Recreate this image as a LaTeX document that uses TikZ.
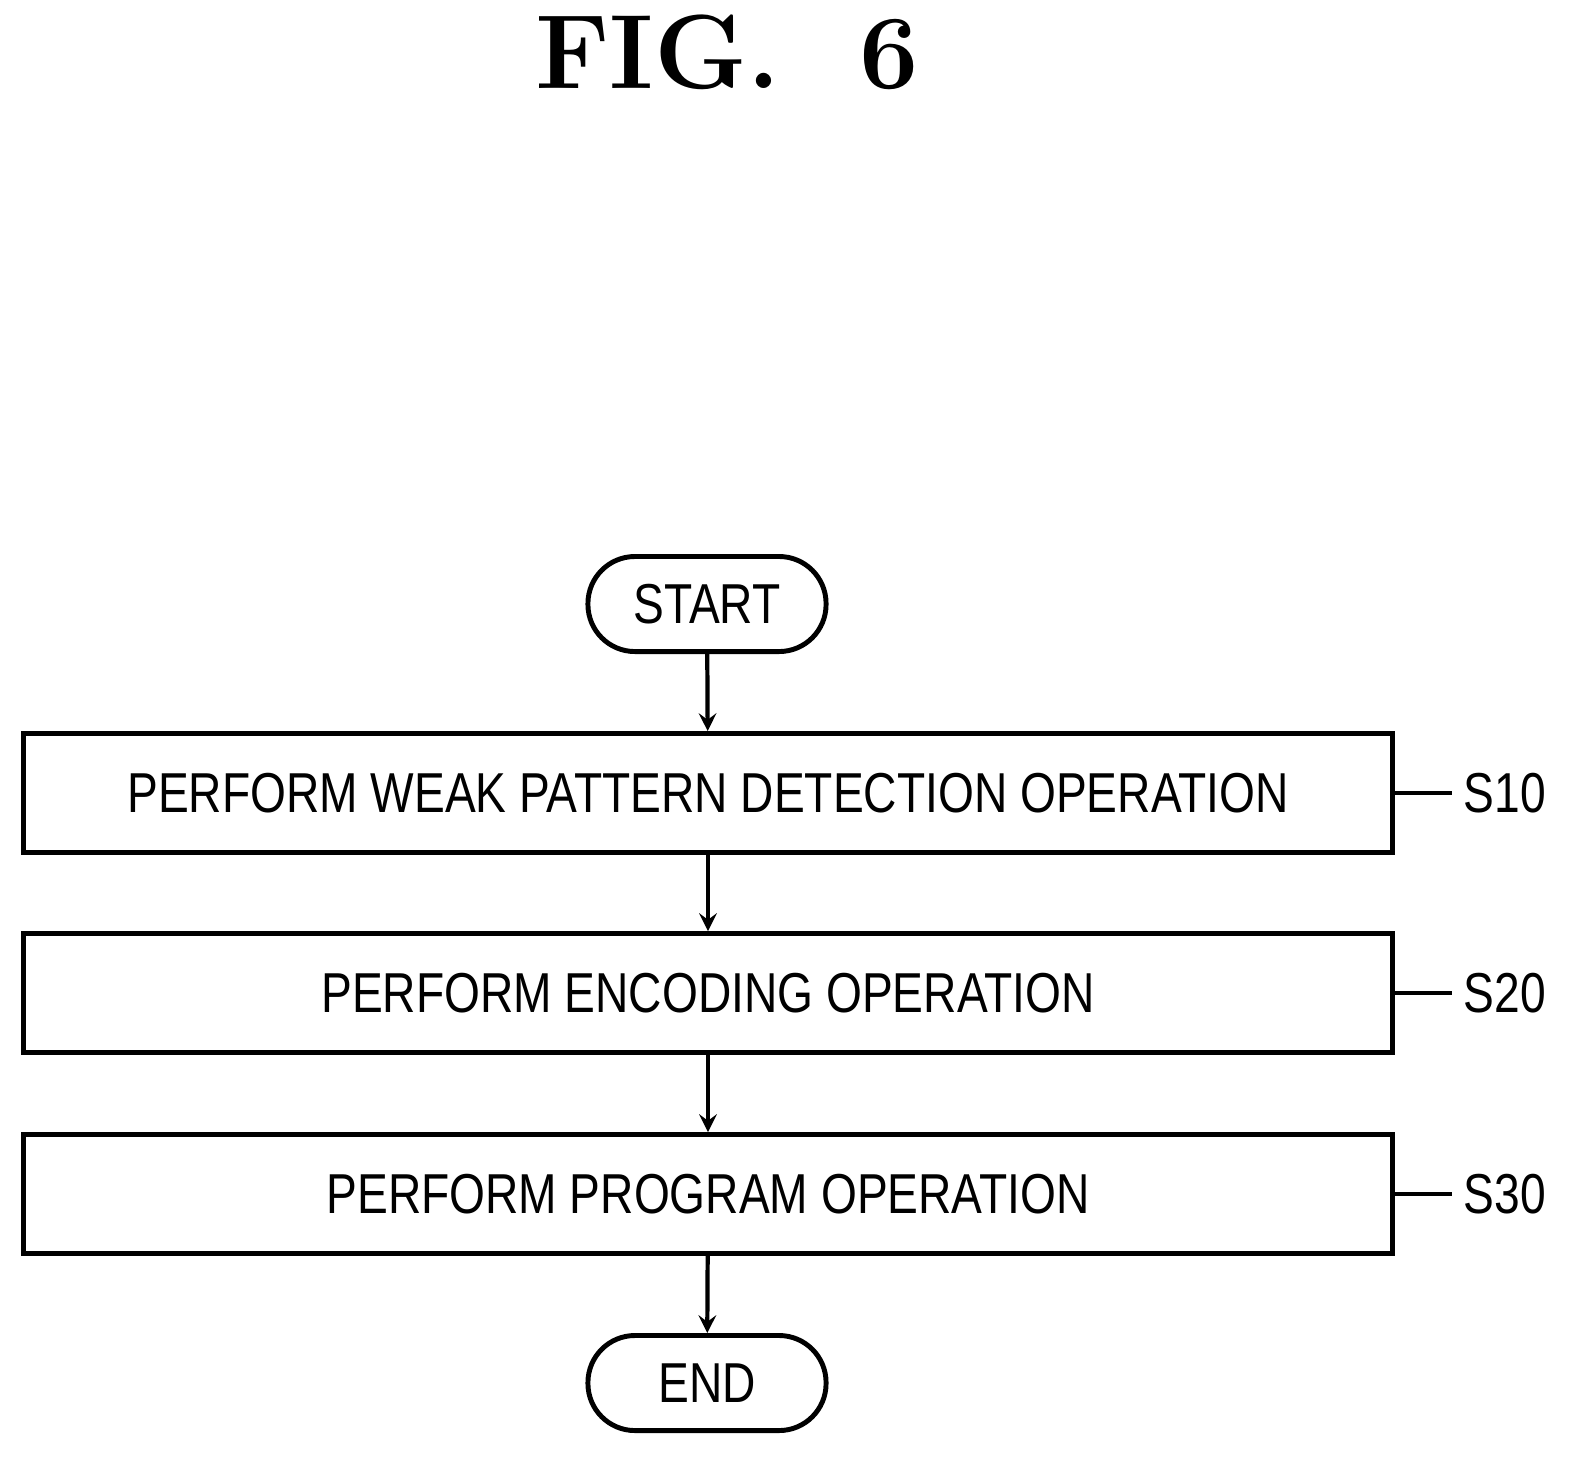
\documentclass[tikz,border=0pt]{standalone}
\usepackage{fontspec}
\setsansfont{Liberation Sans}[FakeStretch=0.82]
\usetikzlibrary{positioning}
\begin{document}
\begin{tikzpicture}[x=0.01cm, y=-0.01cm,
	opbox/.style={draw, line width=1.4pt, minimum width=13.69cm, minimum height=1.19cm, font=\sffamily\fontsize{16}{18}\selectfont},
	term/.style={draw, line width=1.4pt, rounded corners=0.47cm, minimum width=2.38cm, minimum height=0.95cm, font=\sffamily\fontsize{16}{18}\selectfont},
	tag/.style={font=\sffamily\fontsize{16}{18}\selectfont},
	flow/.style={->, >=stealth, line width=1.2pt}]
	\useasboundingbox (0,0) rectangle (1570,1459);
	\node [font=\fontsize{30}{36}\selectfont\bfseries] (title) at (727,52) {FIG.\ \ 6};

	\node [term] (start) at (707,604) {START};
	\node [opbox] (b1) at (708,793) {PERFORM WEAK PATTERN DETECTION OPERATION};
	\node [opbox] (b2) at (708,993) {PERFORM ENCODING OPERATION};
	\node [opbox] (b3) at (708,1194) {PERFORM PROGRAM OPERATION};
	\node [term] (end) at (707,1383) {END};

	\draw [flow] (start) -- (b1);
	\draw [flow] (b1) -- (b2);
	\draw [flow] (b2) -- (b3);
	\draw [flow] (b3) -- (end);

	% step labels
	\node [tag] (l1) at (1505,793) {S10};
	\node [tag] (l2) at (1505,993) {S20};
	\node [tag] (l3) at (1505,1194) {S30};
	\draw [line width=1pt] (b1.east) -- ++(25,0) .. controls +(15,0) and +(-15,0) .. (l1.west);
	\draw [line width=1pt] (b2.east) -- ++(25,0) .. controls +(15,0) and +(-15,0) .. (l2.west);
	\draw [line width=1pt] (b3.east) -- ++(25,0) .. controls +(15,0) and +(-15,0) .. (l3.west);
\end{tikzpicture}
\end{document}
